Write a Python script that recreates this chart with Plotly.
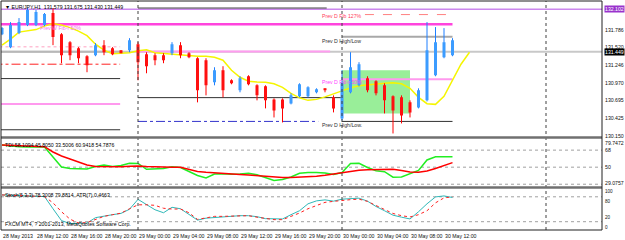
import plotly.graph_objects as go

# ---------------- data ----------------
bars = list(range(54))  # hourly bars from 28 May 08:00
ha_open = [131.719,131.518,131.735,131.859,131.859,131.859,132.045,131.719,131.595,131.502,
           131.378,131.394,131.549,131.502,131.471,131.471,131.564,131.409,131.394,131.394,
           131.425,131.549,131.425,131.347,131.317,130.976,131.162,131.007,130.852,131.069,
           130.929,130.914,130.712,130.712,130.650,130.759,130.759,130.821,130.883,130.743,
           130.418,130.821,130.929,131.038,130.991,130.929,130.759,130.743,130.666,130.588,
           130.697,131.084,131.363,131.394]
ha_high = [131.828,131.905,131.967,132.122,132.091,132.045,132.122,131.735,131.611,131.518,
           131.394,131.580,131.626,131.518,131.471,131.657,131.595,131.440,131.425,131.425,
           131.595,131.595,131.440,131.363,131.347,131.208,131.224,131.022,131.069,131.084,
           130.945,130.929,130.728,130.728,130.805,130.960,130.914,130.883,130.883,130.774,
           131.162,131.440,131.286,131.069,131.007,130.960,130.774,130.774,130.697,130.883,
           131.905,131.828,131.812,131.657]
ha_low = [131.704,131.502,131.719,131.843,131.843,131.843,131.549,131.270,131.317,131.270,
          131.131,131.378,131.394,131.394,131.425,131.440,131.007,131.115,131.239,131.270,
          131.394,131.347,131.347,130.666,130.774,130.929,130.743,130.945,130.821,130.929,
          130.697,130.573,130.433,130.356,130.635,130.743,130.743,130.805,130.821,130.511,
          130.387,130.805,130.914,130.821,130.774,130.495,130.186,130.341,130.433,130.573,
          130.681,131.069,131.347,131.378]
ha_close = [131.812,131.859,131.905,132.091,132.060,132.029,131.673,131.394,131.394,131.347,
            131.239,131.549,131.440,131.409,131.425,131.626,131.286,131.224,131.317,131.317,
            131.564,131.394,131.363,130.852,130.929,131.162,130.852,130.960,131.038,130.945,
            130.774,130.697,130.542,130.573,130.774,130.945,130.898,130.867,130.852,130.573,
            130.976,131.208,131.254,130.852,130.805,130.697,130.542,130.464,130.511,130.852,
            131.471,131.595,131.595,131.626]

ma_bars = list(range(56))  # shifted moving average
ma = [131.549,131.642,131.750,131.773,131.789,131.843,131.882,131.859,131.820,131.766,
      131.696,131.564,131.471,131.417,131.420,131.433,131.464,131.479,131.433,131.420,
      131.409,131.394,131.386,131.378,131.378,131.363,131.317,131.162,131.053,130.991,
      130.980,130.976,130.952,130.898,130.805,130.736,130.697,130.712,130.751,130.797,
      130.844,130.890,130.921,130.937,130.952,130.960,130.968,130.952,130.883,130.743,
      130.646,130.635,130.759,131.007,131.254,131.440]

tdi_green = [73.41,72.36,71.62,71.30,70.99,71.30,60.74,50.19,48.61,48.29,
             48.08,50.72,52.30,50.72,51.77,54.09,53.88,47.76,47.87,48.61,
             50.51,49.66,45.44,41.22,38.58,42.80,43.12,42.48,42.80,43.54,
             41.96,39.11,35.94,36.99,39.63,43.54,44.38,44.38,43.85,42.27,
             44.38,53.88,54.09,49.66,46.18,45.23,39.42,39.63,42.80,46.50,
             57.58,61.06,61.06,60.94]
tdi_red = [73.41,73.09,72.78,72.36,72.04,71.62,66.02,61.80,58.63,55.47,
           52.30,50.72,50.51,50.51,50.51,50.93,51.24,50.72,50.19,49.87,
           49.87,49.87,47.55,45.44,44.60,43.85,43.12,42.59,42.27,41.74,
           41.01,40.16,39.63,39.11,39.11,39.42,39.85,40.37,41.43,42.80,
           44.38,45.65,46.81,47.24,47.66,47.76,47.76,46.50,44.91,44.70,
           45.97,48.61,51.77,54.79]

stoch_main = [84.5,83.8,83.3,82.6,82.1,80.5,51.2,22.6,15.5,15.5,
              16.7,29.7,34.0,36.9,40.0,50.0,73.8,60.7,48.8,41.6,
              54.7,51.2,36.9,23.8,28.5,30.2,32.6,34.5,34.5,34.5,
              32.1,27.4,26.6,26.6,36.9,46.4,63.1,70.2,72.6,69.5,
              74.3,75.7,76.7,69.5,56.7,46.4,35.7,30.9,26.6,44.0,
              63.1,79.7,82.1,78.3]
stoch_signal = [84.5,83.8,83.3,82.6,81.7,80.5,65.4,44.0,26.2,16.7,
                17.8,25.0,32.9,36.9,40.5,51.2,60.7,60.7,59.5,52.4,
                50.5,50.5,41.6,25.5,29.7,32.9,32.9,32.9,33.3,34.5,
                30.9,27.4,25.0,25.0,32.1,40.9,51.2,59.5,66.6,69.0,
                71.4,73.1,74.3,69.0,59.0,50.0,39.8,34.5,31.4,36.9,
                46.4,65.4,77.4,79.88]

price_ticks = [131.786, 131.520, 131.246, 130.970, 130.695, 130.425, 130.150]
tdi_ticks = [79.7472, 68, 50, 29.0757]
tdi_levels = [68, 50, 32]
stoch_ticks = [100, 80, 20, 0]
stoch_levels = [80, 20]
time_ticks = [0, 4, 8, 12, 16, 20, 24, 28, 32, 36, 40, 44, 48, 52]
time_labels = ["28 May 2013", "28 May 12:00", "28 May 16:00", "28 May 20:00",
               "29 May 00:00", "29 May 04:00", "29 May 08:00", "29 May 12:00",
               "29 May 16:00", "29 May 20:00", "30 May 00:00", "30 May 04:00",
               "30 May 08:00", "30 May 12:00"]
day_starts = [16, 40, 64]

# horizontal levels: (price, start bar, end bar, colour, width, dash)
levels = [
    (132.102, -1, 71, "#CC88EE", 1.5, "solid"),
    (131.870, -1, 53, "#FF44DD", 2.5, "solid"),
    (132.122, 16, 38.2, "#404040", 1, "solid"),
    (132.021, 42.7, 53, "#FF8080", 1, "dash"),
    (131.677, 40, 53, "#A8A8A8", 2, "solid"),
    (131.449, -1, 71, "#C8C8C8", 2, "solid"),
    (131.452, 16, 38.6, "#FF9CF0", 2, "solid"),
    (131.523, -1, 13.9, "#FFA0C0", 1, "dot"),
    (131.449, -1, 13.9, "#B8B8B8", 2, "solid"),
    (131.255, -1, 13.9, "#FF2020", 1, "dashdot"),
    (131.033, -1, 13.9, "#303030", 1, "solid"),
    (130.640, -1, 13.9, "#FF99EE", 2, "solid"),
    (130.243, -1, 13.9, "#303030", 1, "solid"),
    (130.739, 16, 40, "#303030", 1, "solid"),
    (130.372, 16, 37.2, "#3333CC", 1, "dashdot"),
    (130.372, 40, 53, "#303030", 1, "solid"),
    (131.022, 40, 53, "#FF99EE", 2, "solid"),
]
zone = (40.0, 48.0, 130.495, 131.162)  # bar0, bar1, low, high

texts = [
    (4.2, 131.812, "Prev W Fib-r 50%", "#F070F0"),
    (37.4, 132.000, "Prev D Fib 127%", "#FF4060"),
    (37.4, 131.615, "Prev D High/Low", "#303030"),
    (37.4, 130.976, "Prev D Fib-r 50%", "#FF40FF"),
    (37.4, 130.310, "Prev D High/Low.", "#303030"),
]

FONT = "Liberation Sans"
FS = 5.2

fig = go.Figure()

# domains
PAD_T, PAD_B, H = 1, 10, 240
ph = H - PAD_T - PAD_B
def py(pix):
    return (H - PAD_B - pix) / ph

main_dom = [py(137.5), 1.0]
tdi_dom = [py(187), py(139)]
sto_dom = [0.0, py(188.5)]

xr = [(1 - 2) / 8.5, (602 - 2) / 8.5]

# zone rectangle
fig.add_shape(type="rect", xref="x", yref="y", x0=zone[0], x1=zone[1], y0=zone[2], y1=zone[3],
              fillcolor="#99EE99", line=dict(width=0), layer="below")

# level lines
for p, a, b, c, w, d in levels:
    fig.add_trace(go.Scatter(x=[a, b], y=[p, p], mode="lines", line=dict(color=c, width=w, dash=d),
                             hoverinfo="skip", showlegend=False, xaxis="x", yaxis="y"))

# moving average
fig.add_trace(go.Scatter(x=ma_bars, y=ma, mode="lines", line=dict(color="#F5F500", width=1.5),
                         showlegend=False, xaxis="x", yaxis="y"))

# Heiken-Ashi style candles
def segs(idx, lo, hi):
    xs, ys = [], []
    for i in idx:
        xs += [bars[i], bars[i], None]
        ys += [lo[i], hi[i], None]
    return xs, ys

up = [i for i in bars if ha_close[i] >= ha_open[i]]
dn = [i for i in bars if ha_close[i] < ha_open[i]]
bot = [min(o, c) for o, c in zip(ha_open, ha_close)]
top = [max(o, c) for o, c in zip(ha_open, ha_close)]
for idx, wc, bc in [(up, "#1E7FFF", "#3C9CFF"), (dn, "#FF0000", "#FF1010")]:
    xs, ys = segs(idx, ha_low, ha_high)
    fig.add_trace(go.Scatter(x=xs, y=ys, mode="lines", line=dict(color=wc, width=1),
                             showlegend=False, xaxis="x", yaxis="y"))
    xs, ys = segs(idx, bot, top)
    fig.add_trace(go.Scatter(x=xs, y=ys, mode="lines", line=dict(color=bc, width=3),
                             showlegend=False, xaxis="x", yaxis="y"))

# TDI panel
for lv in tdi_levels:
    fig.add_trace(go.Scatter(x=[xr[0], xr[1]], y=[lv, lv], mode="lines",
                             line=dict(color="#A0A0A0", width=1, dash="dot"),
                             showlegend=False, xaxis="x2", yaxis="y2"))
fig.add_trace(go.Scatter(x=bars, y=tdi_green, mode="lines", line=dict(color="#22EE22", width=1.5),
                         showlegend=False, xaxis="x2", yaxis="y2"))
fig.add_trace(go.Scatter(x=bars, y=tdi_red, mode="lines", line=dict(color="#FF0000", width=1.5),
                         showlegend=False, xaxis="x2", yaxis="y2"))

# Stochastic panel
for lv in stoch_levels:
    fig.add_trace(go.Scatter(x=[xr[0], xr[1]], y=[lv, lv], mode="lines",
                             line=dict(color="#A0A0A0", width=1, dash="dot"),
                             showlegend=False, xaxis="x3", yaxis="y3"))
fig.add_trace(go.Scatter(x=bars, y=stoch_main, mode="lines", line=dict(color="#30B8B8", width=1),
                         showlegend=False, xaxis="x3", yaxis="y3"))
fig.add_trace(go.Scatter(x=bars, y=stoch_signal, mode="lines", line=dict(color="#FF2020", width=1, dash="dot"),
                         showlegend=False, xaxis="x3", yaxis="y3"))

# day separators
for d in day_starts:
    fig.add_shape(type="line", xref="x", yref="paper", x0=d, x1=d, y0=0, y1=1,
                  line=dict(color="#404040", width=1, dash="dot"))

# panel separators & borders
for yy in [py(137.5), py(187.5)]:
    fig.add_shape(type="line", xref="paper", yref="paper", x0=0, x1=1, y0=yy, y1=yy,
                  line=dict(color="#707070", width=2.5))
fig.add_shape(type="rect", xref="paper", yref="paper", x0=0, x1=1, y0=0, y1=1,
              line=dict(color="#202020", width=1))

ax = dict(showgrid=False, zeroline=False, showticklabels=False, showline=False, ticks="")
fig.update_layout(
    width=625, height=240,
    margin=dict(l=1, r=23, t=PAD_T, b=PAD_B),
    paper_bgcolor="white", plot_bgcolor="white",
    font=dict(family=FONT, size=FS, color="#101010"),
    xaxis=dict(ax, range=xr, anchor="y"),
    xaxis2=dict(ax, range=xr, anchor="y2", matches="x"),
    xaxis3=dict(ax, range=xr, anchor="y3", matches="x"),
    yaxis=dict(ax, range=[130.1236, 132.2305], domain=main_dom),
    yaxis2=dict(ax, range=[29.0757, 79.7472], domain=tdi_dom),
    yaxis3=dict(ax, range=[0, 100], domain=sto_dom),
    showlegend=False,
)

ann = []
def lab(text, yref, y, yanchor="middle", color="#101010", bg=None, yshift=0, size=FS):
    ann.append(dict(text=text, xref="paper", x=1, xanchor="left", xshift=2, yref=yref, y=y,
                    yanchor=yanchor, yshift=yshift, showarrow=False,
                    font=dict(size=size, color=color, family=FONT),
                    bgcolor=bg, borderpad=0))

for t in price_ticks:
    lab(f"{t:.3f}", "y", t)
lab("132.102", "y", 132.102, color="white", bg="#9933CC")
lab("131.449", "y", 131.449, color="white", bg="#000000")
for t in tdi_ticks:
    ya = "top" if t == tdi_ticks[0] else ("bottom" if t == tdi_ticks[-1] else "middle")
    lab(f"{t:g}", "y2", t, yanchor=ya)
# stochastic scale labels: 100/0 at the panel edges, 80/20 nudged inward so they do not collide
sto_anchor = {100: ("top", 1), 80: ("top", -1), 20: ("bottom", 1), 0: ("bottom", -1)}
for t in stoch_ticks:
    ya, sh = sto_anchor[t]
    lab(f"{t}", "y3", t, yanchor=ya, yshift=sh, size=4.6)

for v, s in zip(time_ticks, time_labels):
    ann.append(dict(text=s, xref="x", x=v, xanchor="left", xshift=-1, yref="paper", y=0,
                    yanchor="top", yshift=-1, showarrow=False, font=dict(size=FS, family=FONT)))

for x, y, s, c in texts:
    ann.append(dict(text=s, xref="x", x=x, xanchor="left", yref="y", y=y, yanchor="middle",
                    showarrow=False, font=dict(size=FS, color=c, family=FONT)))

ann.append(dict(text="▼ EUR/JPY,H1  131.579 131.675 131.430 131.449", xref="paper", x=0, xanchor="left",
                xshift=2, yref="paper", y=1, yanchor="top", yshift=-1, showarrow=False,
                font=dict(size=FS, family=FONT, color="#000000")))
ann.append(dict(text="TDI 58.1094 45.8050 33.5006 60.9418 54.7876", xref="paper", x=0, xanchor="left",
                xshift=2, yref="paper", y=tdi_dom[1], yanchor="top", yshift=-1, showarrow=False,
                font=dict(size=FS, family=FONT, color="#000000")))
ann.append(dict(text="Stoch(5,3,3) 78.3008 79.8814  ATR(7) 0.4663", xref="paper", x=0, xanchor="left",
                xshift=2, yref="paper", y=sto_dom[1], yanchor="top", yshift=-1, showarrow=False,
                font=dict(size=FS, family=FONT, color="#000000")))
ann.append(dict(text="FXCM MT4, ? 2001-2013, MetaQuotes Software Corp.", xref="paper", x=0, xanchor="left",
                xshift=2, yref="paper", y=0, yanchor="bottom", yshift=1, showarrow=False,
                font=dict(size=FS, family=FONT, color="#000000")))
fig.update_layout(annotations=ann)

fig.write_html("out.html")
